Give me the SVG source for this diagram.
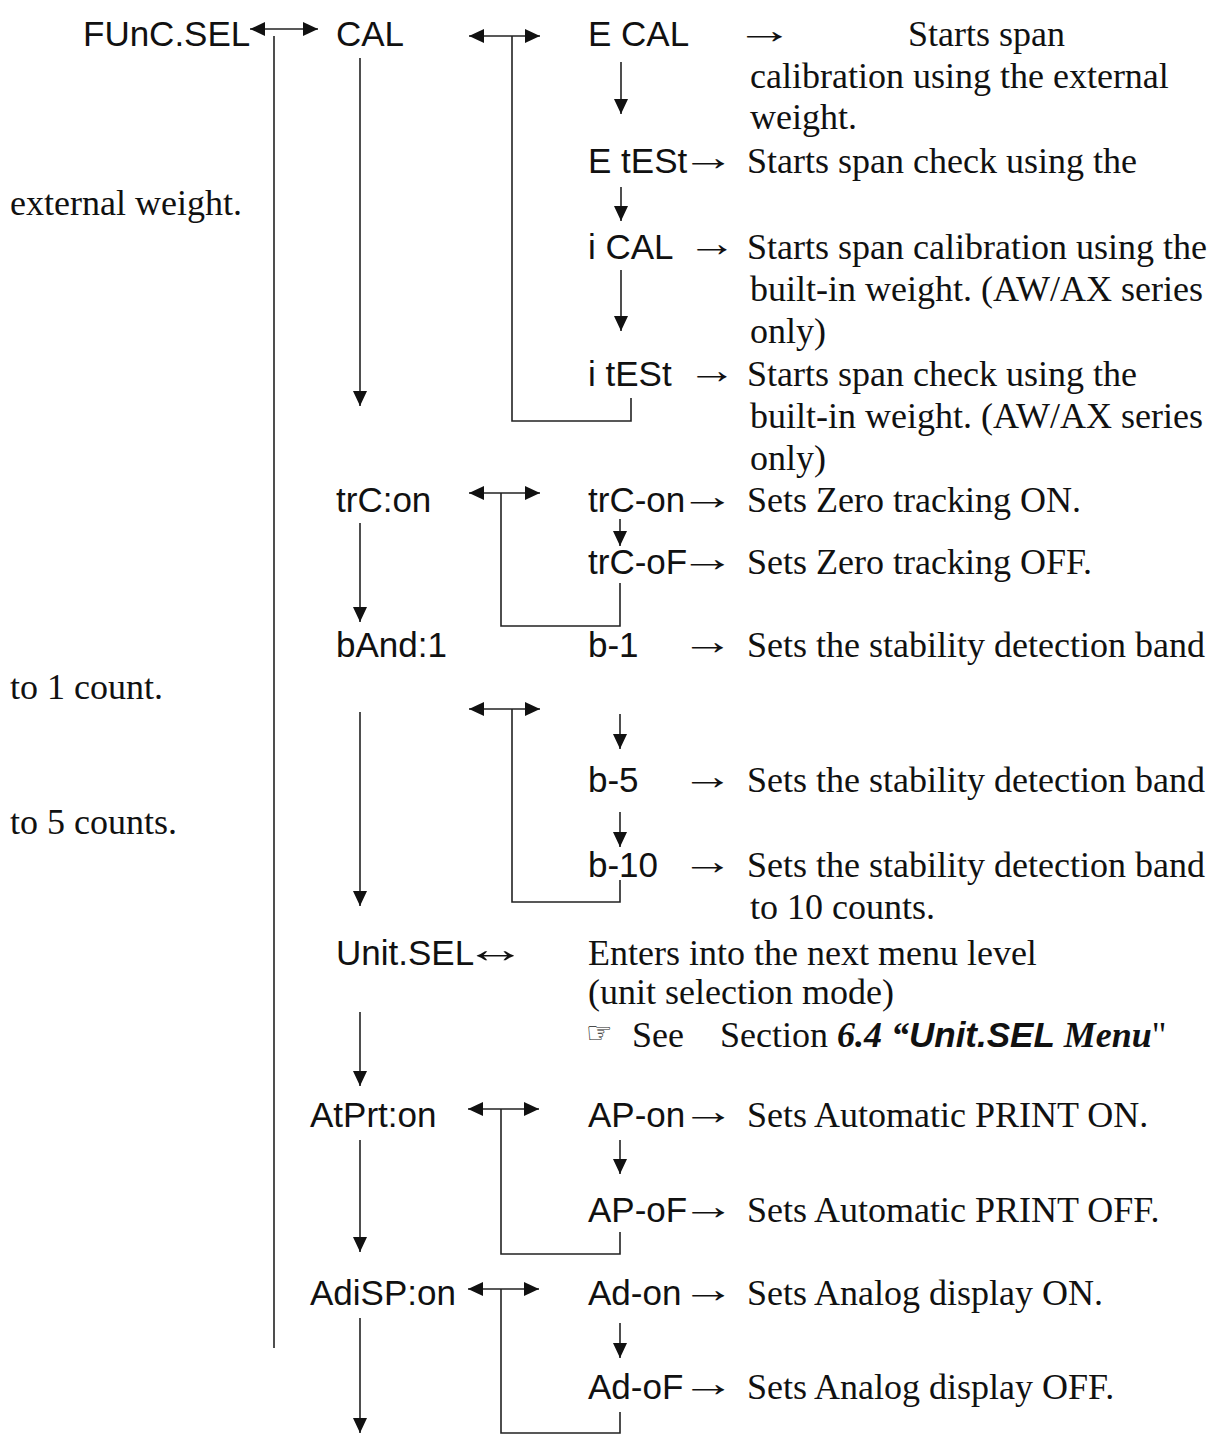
<svg xmlns="http://www.w3.org/2000/svg" width="1212" height="1440" viewBox="0 0 1212 1440">
<style>
.s{font-family:"Liberation Sans",Arial,sans-serif;font-size:35px;fill:#111}
.t{font-family:"Liberation Serif","Times New Roman",serif;font-size:36px;fill:#111}
.a{font-family:"Liberation Serif","Times New Roman",serif;font-size:38px;fill:#111}
.c line,.c path{stroke:#222;stroke-width:1.6;fill:none}
.bi{font-weight:bold;font-style:italic}
</style>
<defs>
<marker id="ah" viewBox="0 0 15 14" refX="15" refY="7" markerWidth="15" markerHeight="14" markerUnits="userSpaceOnUse" orient="auto-start-reverse">
<path d="M0,0 L15,7 L0,14 z" fill="#111"/>
</marker>
</defs>
<rect width="1212" height="1440" fill="#fff"/>

<g id="connectors" class="c">
<!-- FUnC.SEL -->
<line x1="250" y1="29" x2="318" y2="29" marker-start="url(#ah)" marker-end="url(#ah)"/>
<line x1="274" y1="36" x2="274" y2="1348"/>
<!-- CAL -->
<line x1="360" y1="58" x2="360" y2="406" marker-end="url(#ah)"/>
<line x1="469" y1="36" x2="540" y2="36" marker-start="url(#ah)" marker-end="url(#ah)"/>
<path d="M512,36 V421 H631 V398"/>
<line x1="621" y1="62" x2="621" y2="114" marker-end="url(#ah)"/>
<line x1="621" y1="187" x2="621" y2="221" marker-end="url(#ah)"/>
<line x1="621" y1="270" x2="621" y2="331" marker-end="url(#ah)"/>
<!-- trC -->
<line x1="360" y1="523" x2="360" y2="622" marker-end="url(#ah)"/>
<line x1="469" y1="493" x2="540" y2="493" marker-start="url(#ah)" marker-end="url(#ah)"/>
<path d="M501,493 V626 H620 V583"/>
<line x1="620" y1="519" x2="620" y2="546" marker-end="url(#ah)"/>
<!-- bAnd -->
<line x1="360" y1="712" x2="360" y2="906" marker-end="url(#ah)"/>
<line x1="469" y1="709" x2="540" y2="709" marker-start="url(#ah)" marker-end="url(#ah)"/>
<path d="M512,709 V902 H620 V880"/>
<line x1="620" y1="714" x2="620" y2="749" marker-end="url(#ah)"/>
<line x1="620" y1="812" x2="620" y2="847" marker-end="url(#ah)"/>
<!-- Unit.SEL -->
<line x1="360" y1="1012" x2="360" y2="1086" marker-end="url(#ah)"/>
<!-- AtPrt -->
<line x1="360" y1="1140" x2="360" y2="1252" marker-end="url(#ah)"/>
<line x1="468" y1="1109" x2="539" y2="1109" marker-start="url(#ah)" marker-end="url(#ah)"/>
<path d="M501,1109 V1254 H620 V1232"/>
<line x1="620" y1="1140" x2="620" y2="1174" marker-end="url(#ah)"/>
<!-- AdiSP -->
<line x1="360" y1="1318" x2="360" y2="1433" marker-end="url(#ah)"/>
<line x1="468" y1="1289" x2="539" y2="1289" marker-start="url(#ah)" marker-end="url(#ah)"/>
<path d="M501,1289 V1433 H620 V1412"/>
<line x1="620" y1="1323" x2="620" y2="1358" marker-end="url(#ah)"/>
</g>

<g id="n-funcsel"><text class="s" x="83" y="46">FUnC.SEL</text></g>

<g id="n-cal"><text class="s" x="336" y="46">CAL</text></g>

<g id="n-ecal">
<text class="s" x="588" y="46">E CAL</text>
<text class="a" transform="translate(735,43) scale(1.55,1)">→</text>
<text class="t" x="908" y="46">Starts span</text>
<text class="t" x="750" y="88">calibration using the external</text>
<text class="t" x="750" y="129">weight.</text>
</g>

<g id="n-etest">
<text class="s" x="588" y="173">E tESt</text>
<text class="a" transform="translate(681,170) scale(1.42,1)">→</text>
<text class="t" x="747" y="173">Starts span check using the</text>
<text class="t" x="10" y="215">external weight.</text>
</g>

<g id="n-ical">
<text class="s" x="588" y="259">i CAL</text>
<text class="a" transform="translate(687,256) scale(1.3,1)">→</text>
<text class="t" x="747" y="259">Starts span calibration using the</text>
<text class="t" x="750" y="301">built-in weight. (AW/AX series</text>
<text class="t" x="750" y="343">only)</text>
</g>

<g id="n-itest">
<text class="s" x="588" y="386">i tESt</text>
<text class="a" transform="translate(687,383) scale(1.3,1)">→</text>
<text class="t" x="747" y="386">Starts span check using the</text>
<text class="t" x="750" y="428">built-in weight. (AW/AX series</text>
<text class="t" x="750" y="470">only)</text>
</g>

<g id="n-trc"><text class="s" x="336" y="512">trC:on</text></g>

<g id="n-trcon">
<text class="s" x="588" y="512">trC-on</text>
<text class="a" transform="translate(679,509) scale(1.48,1)">→</text>
<text class="t" x="747" y="512">Sets Zero tracking ON.</text>
</g>

<g id="n-trcof">
<text class="s" x="588" y="574">trC-oF</text>
<text class="a" transform="translate(679,571) scale(1.48,1)">→</text>
<text class="t" x="747" y="574">Sets Zero tracking OFF.</text>
</g>

<g id="n-band"><text class="s" x="336" y="657">bAnd:1</text></g>

<g id="n-b1">
<text class="s" x="588" y="657">b-1</text>
<text class="a" transform="translate(681,654) scale(1.38,1)">→</text>
<text class="t" x="747" y="657">Sets the stability detection band</text>
<text class="t" x="10" y="699">to 1 count.</text>
</g>

<g id="n-b5">
<text class="s" x="588" y="792">b-5</text>
<text class="a" transform="translate(681,789) scale(1.38,1)">→</text>
<text class="t" x="747" y="792">Sets the stability detection band</text>
<text class="t" x="10" y="834">to 5 counts.</text>
</g>

<g id="n-b10">
<text class="s" x="588" y="877">b-10</text>
<text class="a" transform="translate(681,874) scale(1.38,1)">→</text>
<text class="t" x="747" y="877">Sets the stability detection band</text>
<text class="t" x="750" y="919">to 10 counts.</text>
</g>

<g id="n-unitsel">
<text class="s" x="336" y="965">Unit.SEL</text>
<text class="a" transform="translate(464,962) scale(1.65,1)">↔</text>
<text class="t" x="588" y="965">Enters into the next menu level</text>
<text class="t" x="588" y="1004">(unit selection mode)</text>
<text x="586" y="1043" style="font-family:'DejaVu Sans',sans-serif;font-size:30px;fill:#222">☞</text>
<text class="t" x="632" y="1047">See</text>
<text class="t" x="720" y="1047">Section <tspan class="bi">6.4 “</tspan><tspan class="bi" style="font-family:'Liberation Sans',Arial,sans-serif;font-size:35px">Unit.SEL</tspan><tspan class="bi"> Menu</tspan>"</text>
</g>

<g id="n-atprt"><text class="s" x="310" y="1127">AtPrt:on</text></g>

<g id="n-apon">
<text class="s" x="588" y="1127">AP-on</text>
<text class="a" transform="translate(681,1124) scale(1.42,1)">→</text>
<text class="t" x="747" y="1127">Sets Automatic PRINT ON.</text>
</g>

<g id="n-apof">
<text class="s" x="588" y="1222">AP-oF</text>
<text class="a" transform="translate(681,1219) scale(1.42,1)">→</text>
<text class="t" x="747" y="1222">Sets Automatic PRINT OFF.</text>
</g>

<g id="n-adisp"><text class="s" x="310" y="1305">AdiSP:on</text></g>

<g id="n-adon">
<text class="s" x="588" y="1305">Ad-on</text>
<text class="a" transform="translate(681,1302) scale(1.42,1)">→</text>
<text class="t" x="747" y="1305">Sets Analog display ON.</text>
</g>

<g id="n-adof">
<text class="s" x="588" y="1399">Ad-oF</text>
<text class="a" transform="translate(681,1396) scale(1.42,1)">→</text>
<text class="t" x="747" y="1399">Sets Analog display OFF.</text>
</g>
</svg>
